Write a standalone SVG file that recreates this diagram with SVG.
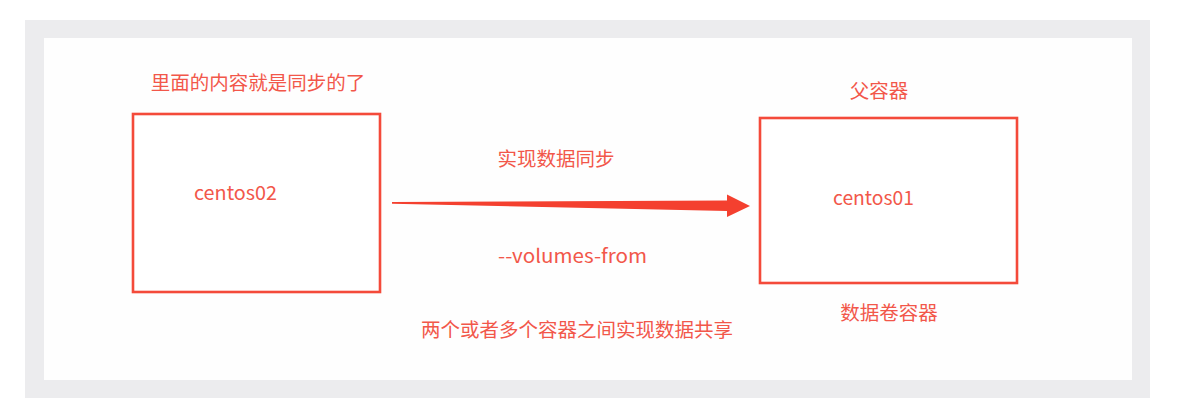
<svg xmlns="http://www.w3.org/2000/svg" width="1200" height="411" viewBox="0 0 1200 411">
<style>
.t{font-family:"Noto Sans CJK SC","Noto Sans",sans-serif;fill:#f2574a;}
.cn{font-size:19.5px;}
.en{font-size:19px;}
.box{fill:#ffffff;stroke:#f44a3a;stroke-width:2.6;}
</style>
<rect x="0" y="0" width="1200" height="411" fill="#ffffff"/>
<rect x="25" y="20" width="1125" height="378" fill="#ececee"/>
<rect x="44" y="38" width="1088" height="342" fill="#fefefe"/>
<g id="centos02">
<rect class="box" x="133" y="114" width="247" height="178"/>
<text class="t en" x="194" y="200" textLength="83" lengthAdjust="spacingAndGlyphs">centos02</text>
</g>
<g id="centos01">
<rect class="box" x="760" y="118" width="257" height="165"/>
<text class="t en" x="833" y="205" textLength="81" lengthAdjust="spacingAndGlyphs">centos01</text>
</g>
<g id="labels">
<text class="t cn" x="258" y="90" text-anchor="middle">里面的内容就是同步的了</text>
<text class="t cn" x="879" y="98" text-anchor="middle">父容器</text>
<text class="t cn" x="889" y="320" text-anchor="middle">数据卷容器</text>
<text class="t cn" x="556" y="166" text-anchor="middle">实现数据同步</text>
<text class="t en" x="498" y="263" textLength="149" lengthAdjust="spacingAndGlyphs">--volumes-from</text>
<text class="t cn" x="577" y="337" text-anchor="middle">两个或者多个容器之间实现数据共享</text>
</g>
<g id="connectors">
<polygon points="392,202 727,200.5 727,194.5 750,206 727,217 727,211 392,203.8" fill="#f4402f"/>
</g>
</svg>
